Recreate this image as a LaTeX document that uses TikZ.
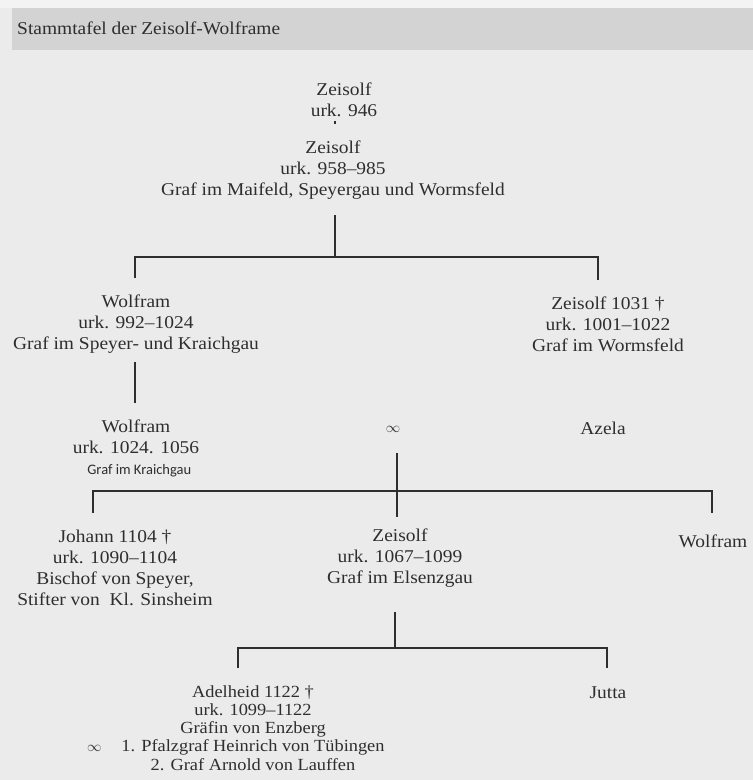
\documentclass[tikz,border=0pt]{standalone}
\usepackage{fontspec}
\setmainfont{Liberation Serif}[FakeStretch=1.08]
\newfontfamily\notefont{Carlito}

\definecolor{ink}{HTML}{2E2E2E}
\definecolor{paper}{HTML}{EBEBEB}
\definecolor{band}{HTML}{D3D3D3}
\definecolor{rim}{HTML}{F3F3F3}

\newcommand{\marriage}{{\fontsize{15}{15}\selectfont$\infty$}}

\begin{document}
\begin{tikzpicture}[x=1pt, y=-1pt,
    person/.style={align=center,
        text=ink, % Text colour.
        inner sep=0pt,
        font=\fontsize{18}{21}\selectfont},
    late/.style={person,
        font=\fontsize{17}{18.2}\selectfont},
    line/.style={draw=ink, % Line colour.
        line width=1.6pt}]

        % Page and title band.
        \useasboundingbox (0,0) rectangle (753,780);
        \fill[paper] (0,0) rectangle (753,780);
        \fill[rim] (0,0) rectangle (753,8);
        \fill[band] (12,8) rectangle (753,50);
        \node[person, anchor=west] (title) at (17,28) {Stammtafel der Zeisolf-Wolframe};

        % Nodes.
        \node[person] (z1) at (344,100) {Zeisolf\\urk. 946};
        \node[person] (z2) at (333,170) {Zeisolf\\urk. 958--985\\Graf im Maifeld, Speyergau und Wormsfeld};
        \node[person] (w1) at (136,324) {Wolfram\\urk. 992--1024\\Graf im Speyer- und Kraichgau};
        \node[person] (z3) at (608,324) {Zeisolf 1031 \textdagger\\urk. 1001--1022\\Graf im Wormsfeld};
        \node[person] (w2) at (136,448) {Wolfram\\urk. 1024. 1056\\{\notefont\fontsize{14.5}{16}\selectfont\ \ Graf im Kraichgau}};
        \node[person] (marr) at (393,429) {\marriage};
        \node[person] (azela) at (603,428) {Azela};
        \node[person] (jo) at (115,568) {Johann 1104 \textdagger\\urk. 1090--1104\\Bischof von Speyer,\\Stifter von\ \ Kl. Sinsheim};
        \node[person] (z4) at (400,558) {Zeisolf\\urk. 1067--1099\\Graf im Elsenzgau};
        \node[person] (w3) at (713,541) {Wolfram};
        \node[late] (ad) at (253,728) {Adelheid 1122 \textdagger\\urk. 1099--1122\\Gräfin von Enzberg\\\llap{\marriage\hspace{20pt}}1. Pfalzgraf Heinrich von Tübingen\\2. Graf Arnold von Lauffen};
        \node[person] (ju) at (608,693) {Jutta};

        % Line ends and forks.
        \coordinate (z1dot) at (335,121);
        \coordinate (z2dot) at (335,124);
        \coordinate (z2stem) at (335,215);
        \coordinate (fork1) at (335,257);
        \coordinate (w1drop) at (135,278);
        \coordinate (z3drop) at (598,280);
        \coordinate (w1stem) at (135,362);
        \coordinate (w2top) at (135,403);
        \coordinate (marrstem) at (397,453);
        \coordinate (fork2) at (397,491);
        \coordinate (z4drop) at (397,517);
        \coordinate (jodrop) at (93,513);
        \coordinate (w3drop) at (712,513);
        \coordinate (z4stem) at (395,612);
        \coordinate (fork3) at (395,648);
        \coordinate (addrop) at (238,668);
        \coordinate (judrop) at (607,668);

        % Descent lines.
        \foreach \i/\j in {z1dot/z2dot, z2stem/fork1, w1stem/w2top, marrstem/z4drop, z4stem/fork3}
        \draw[line] (\i) -- (\j);

        % Sibling bars.
        \foreach \l/\f/\r in {w1drop/fork1/z3drop, jodrop/fork2/w3drop, addrop/fork3/judrop}
        \draw[line] (\l) |- (\f) -| (\r);
    \end{tikzpicture}
\end{document}
